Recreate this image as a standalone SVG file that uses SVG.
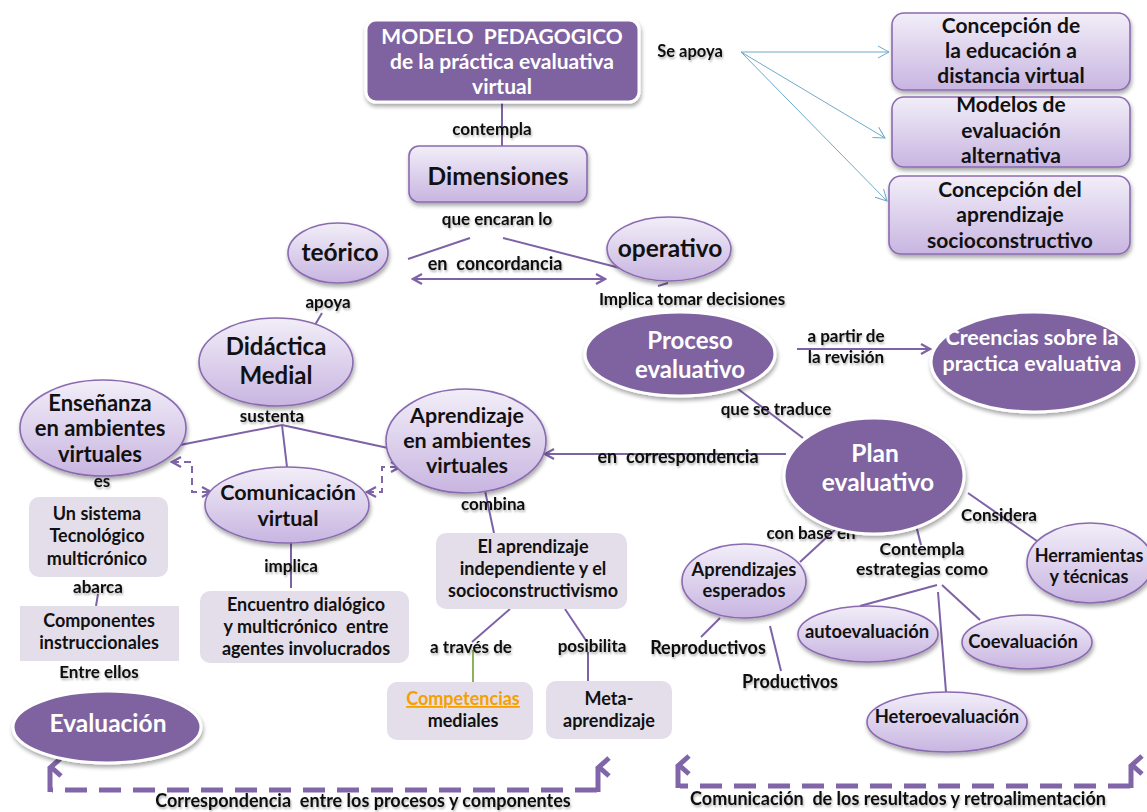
<svg xmlns="http://www.w3.org/2000/svg" width="1147" height="812" viewBox="0 0 1147 812">
<defs>
<linearGradient id="lg" x1="0" y1="0" x2="0" y2="1">
<stop offset="0" stop-color="#F2EEF8"/><stop offset="1" stop-color="#C8B5E1"/>
</linearGradient>
<filter id="sh" x="-20%" y="-20%" width="140%" height="150%">
<feGaussianBlur in="SourceAlpha" stdDeviation="2"/><feOffset dx="1" dy="3" result="b"/>
<feComponentTransfer><feFuncA type="linear" slope="0.35"/></feComponentTransfer>
<feMerge><feMergeNode/><feMergeNode in="SourceGraphic"/></feMerge>
</filter>
<filter id="ts" x="-10%" y="-30%" width="120%" height="160%">
<feGaussianBlur in="SourceAlpha" stdDeviation="1.2"/><feOffset dx="1" dy="2"/>
<feComponentTransfer><feFuncA type="linear" slope="0.3"/></feComponentTransfer>
<feMerge><feMergeNode/><feMergeNode in="SourceGraphic"/></feMerge>
</filter>
<marker id="chev" viewBox="0 0 12 12" refX="10" refY="6" markerWidth="12" markerHeight="12" markerUnits="userSpaceOnUse" orient="auto-start-reverse">
<path d="M1,1 L10,6 L1,11" fill="none" stroke="#7E62A6" stroke-width="2.2"/>
</marker>
<marker id="bchev" viewBox="0 0 14 14" refX="12" refY="7" markerWidth="14" markerHeight="14" markerUnits="userSpaceOnUse" orient="auto">
<path d="M1,1 L12,7 L1,13" fill="none" stroke="#6FA9C9" stroke-width="1"/>
</marker>
<marker id="up" viewBox="0 0 24 20" refX="12" refY="3" markerWidth="24" markerHeight="20" markerUnits="userSpaceOnUse" orient="auto">
<path d="M3,14 L12,4 L21,14" fill="none" stroke="#8066A8" stroke-width="5"/>
</marker>
<style>
text{font-family:Lato,"Liberation Sans",sans-serif;font-weight:bold;text-anchor:middle;fill:#111;white-space:pre;}
.w{fill:#fff;}
.lbl{font-size:17px;}
.lite{fill:url(#lg);stroke:#8A6BB0;stroke-width:1.6;filter:url(#sh);}
.dark{fill:#7F63A1;stroke:#fff;stroke-width:3;filter:url(#sh);}
.flat{fill:#E4DEEB;}
.ln{stroke:#7E62A6;stroke-width:2;fill:none;}
.bl{stroke:#6FA9C9;stroke-width:1;fill:none;}
.dash{stroke:#8066A8;stroke-width:5;fill:none;stroke-dasharray:22 12;}
.sdash{stroke:#8066A8;stroke-width:2;fill:none;stroke-dasharray:7 5;}
.box{font-size:18px;}
</style>
</defs>
<rect width="1147" height="812" fill="#fff"/>

<g id="connectors">
<line class="ln" x1="502" y1="102" x2="502" y2="147"/>
<line class="bl" x1="741" y1="52" x2="889" y2="52" marker-end="url(#bchev)"/>
<line class="bl" x1="741" y1="52" x2="885" y2="138" marker-end="url(#bchev)"/>
<line class="bl" x1="741" y1="52" x2="887" y2="201" marker-end="url(#bchev)"/>
<line class="ln" x1="408" y1="259" x2="470" y2="238"/>
<line class="ln" x1="503" y1="238" x2="620" y2="268"/>
<line class="ln" x1="413" y1="279" x2="605" y2="279" marker-start="url(#chev)" marker-end="url(#chev)"/>
<line class="ln" x1="658" y1="286" x2="668" y2="283"/>
<line class="ln" x1="312" y1="330" x2="322" y2="313"/>
<line class="ln" x1="282" y1="425" x2="180" y2="445"/>
<line class="ln" x1="282" y1="425" x2="287" y2="467"/>
<line class="ln" x1="282" y1="425" x2="388" y2="448"/>
<path class="sdash" d="M172,462 L192,462 L192,492 L211,492" marker-start="url(#chev)" marker-end="url(#chev)"/>
<path class="sdash" d="M367,492 L382,492 L382,467 L400,467" marker-start="url(#chev)" marker-end="url(#chev)"/>
<line class="ln" x1="786" y1="454" x2="545" y2="454" marker-end="url(#chev)"/>
<line class="ln" x1="484" y1="486" x2="494" y2="533"/>
<line class="ln" x1="510" y1="609" x2="472" y2="642"/>
<line x1="473" y1="650" x2="473" y2="682" stroke="#8DB05A" stroke-width="2"/>
<line class="ln" x1="565" y1="609" x2="587" y2="642"/>
<line class="ln" x1="588" y1="652" x2="588" y2="682"/>
<line class="ln" x1="98" y1="594" x2="96" y2="606"/>
<line class="ln" x1="291" y1="542" x2="291" y2="588"/>
<line class="ln" x1="797" y1="349" x2="930" y2="349" marker-end="url(#chev)"/>
<line class="ln" x1="738" y1="389" x2="803" y2="438"/>
<line class="ln" x1="968" y1="493" x2="1037" y2="541"/>
<line class="ln" x1="840" y1="525" x2="800" y2="562"/>
<line class="ln" x1="720" y1="618" x2="701" y2="637"/>
<line class="ln" x1="770" y1="626" x2="781" y2="671"/>
<line class="ln" x1="916" y1="525" x2="921" y2="545"/>
<line class="ln" x1="937" y1="585" x2="860" y2="606"/>
<line class="ln" x1="938" y1="592" x2="946" y2="692"/>
<line class="ln" x1="942" y1="585" x2="980" y2="620"/>
<path class="dash" d="M597,790 L52,790"/>
<line x1="50" y1="792" x2="50" y2="767" stroke="#8066A8" stroke-width="5" marker-end="url(#up)"/>
<line x1="598" y1="792" x2="598" y2="767" stroke="#8066A8" stroke-width="5" marker-end="url(#up)"/>
<path class="dash" d="M1130,786 L680,786"/>
<line x1="678" y1="788" x2="678" y2="765" stroke="#8066A8" stroke-width="5" marker-end="url(#up)"/>
<line x1="1131" y1="788" x2="1131" y2="765" stroke="#8066A8" stroke-width="5" marker-end="url(#up)"/>
</g>

<g id="labels" filter="url(#ts)">
<text x="690" y="57" style="font-size:16.5px">Se apoya</text>
<text x="492" y="135" class="lbl">contempla</text>
<text x="497" y="225" class="lbl">que encaran lo</text>
<text x="495" y="270" style="font-size:18px">en  concordancia</text>
<text x="692" y="305" class="lbl">Implica tomar decisiones</text>
<text x="328" y="308" class="lbl">apoya</text>
<text x="272" y="422" class="lbl">sustenta</text>
<text x="102" y="487" class="lbl">es</text>
<text x="678" y="463" style="font-size:18px">en  correspondencia</text>
<text x="493" y="510" class="lbl">combina</text>
<text x="471" y="653" class="lbl">a través de</text>
<text x="592" y="652" class="lbl">posibilita</text>
<text x="98" y="593" class="lbl">abarca</text>
<text x="99" y="678" class="lbl">Entre ellos</text>
<text x="291" y="572" class="lbl">implica</text>
<text x="846" y="342" class="lbl">a partir de</text>
<text x="846" y="363" class="lbl">la revisión</text>
<text x="776" y="415" class="lbl">que se traduce</text>
<text x="999" y="521" class="lbl">Considera</text>
<text x="811" y="539" class="lbl">con base en</text>
<text x="922" y="555" style="font-size:17.5px">Contempla</text>
<text x="922" y="575" style="font-size:17.5px">estrategias como</text>
<text x="708" y="654" style="font-size:18px">Reproductivos</text>
<text x="790" y="688" style="font-size:18px">Productivos</text>
<text x="363" y="807" style="font-size:18px">Correspondencia  entre los procesos y componentes</text>
<text x="898" y="805" style="font-size:18px">Comunicación  de los resultados y retroalimentación</text>
</g>

<g id="n-modelo">
<rect x="366" y="20" width="273" height="82" rx="10" class="dark"/>
<text class="w" x="502" y="44" style="font-size:21px">MODELO  PEDAGOGICO</text>
<text class="w" x="502" y="69" style="font-size:21px">de la práctica evaluativa</text>
<text class="w" x="502" y="94" style="font-size:21px">virtual</text>
</g>
<g id="n-concepcion-edu">
<rect x="892" y="13" width="238" height="77" rx="12" class="lite"/>
<text x="1011" y="33" style="font-size:21px">Concepción de</text>
<text x="1011" y="58" style="font-size:21px">la educación a</text>
<text x="1011" y="83" style="font-size:21px">distancia virtual</text>
</g>
<g id="n-modelos">
<rect x="892" y="97" width="238" height="70" rx="12" class="lite"/>
<text x="1011" y="112" style="font-size:21px">Modelos de</text>
<text x="1011" y="138" style="font-size:21px">evaluación</text>
<text x="1011" y="163" style="font-size:21px">alternativa</text>
</g>
<g id="n-concepcion-apr">
<rect x="889" y="176" width="241" height="78" rx="12" class="lite"/>
<text x="1010" y="197" style="font-size:21px">Concepción del</text>
<text x="1010" y="222" style="font-size:21px">aprendizaje</text>
<text x="1010" y="248" style="font-size:21px">socioconstructivo</text>
</g>
<g id="n-dimensiones">
<rect x="409" y="146" width="178" height="56" rx="10" class="lite"/>
<text x="498" y="185" style="font-size:24.5px">Dimensiones</text>
</g>
<g id="n-teorico">
<ellipse cx="338" cy="253" rx="50" ry="30" class="lite"/>
<text x="340" y="261" style="font-size:24.5px">teórico</text>
</g>
<g id="n-operativo">
<ellipse cx="669" cy="249" rx="62" ry="32" class="lite"/>
<text x="670" y="257" style="font-size:24.5px">operativo</text>
</g>
<g id="n-didactica">
<ellipse cx="276" cy="362" rx="77" ry="44" class="lite"/>
<text x="276" y="355" style="font-size:24px">Didáctica</text>
<text x="276" y="384" style="font-size:24px">Medial</text>
</g>
<g id="n-ensenanza">
<ellipse cx="103" cy="428" rx="83" ry="48" class="lite"/>
<text x="100" y="411" style="font-size:22px">Enseñanza</text>
<text x="100" y="436" style="font-size:22px">en ambientes</text>
<text x="100" y="462" style="font-size:22px">virtuales</text>
</g>
<g id="n-comunicacion">
<ellipse cx="287" cy="505" rx="82" ry="38" class="lite"/>
<text x="288" y="500" style="font-size:21.5px">Comunicación</text>
<text x="288" y="526" style="font-size:21.5px">virtual</text>
</g>
<g id="n-aprendizaje">
<ellipse cx="466" cy="441" rx="80" ry="52" class="lite"/>
<text x="467" y="423" style="font-size:21.5px">Aprendizaje</text>
<text x="467" y="448" style="font-size:21.5px">en ambientes</text>
<text x="467" y="473" style="font-size:21.5px">virtuales</text>
</g>
<g id="n-independiente">
<rect x="436" y="533" width="191" height="76" rx="10" class="flat"/>
<text x="533" y="553" class="box">El aprendizaje</text>
<text x="533" y="575" class="box">independiente y el</text>
<text x="533" y="597" class="box">socioconstructivismo</text>
</g>
<g id="n-competencias">
<rect x="387" y="682" width="146" height="58" rx="10" class="flat"/>
<text x="463" y="705" class="box" style="fill:#F5A000;text-decoration:underline">Competencias</text>
<text x="463" y="727" class="box">mediales</text>
</g>
<g id="n-meta">
<rect x="546" y="681" width="126" height="58" rx="10" class="flat"/>
<text x="609" y="705" class="box">Meta-</text>
<text x="609" y="727" class="box">aprendizaje</text>
</g>
<g id="n-sistema">
<rect x="29" y="497" width="139" height="80" rx="10" class="flat"/>
<text x="97" y="520" class="box">Un sistema</text>
<text x="97" y="542" class="box">Tecnológico</text>
<text x="97" y="565" class="box">multicrónico</text>
</g>
<g id="n-componentes">
<rect x="20" y="606" width="159" height="55" class="flat"/>
<text x="99" y="627" class="box">Componentes</text>
<text x="99" y="649" class="box">instruccionales</text>
</g>
<g id="n-evaluacion">
<ellipse cx="107" cy="727" rx="94" ry="36" class="dark"/>
<text class="w" x="108" y="732" style="font-size:24.5px">Evaluación</text>
</g>
<g id="n-encuentro">
<rect x="200" y="591" width="209" height="72" rx="10" class="flat"/>
<text x="306" y="611" class="box">Encuentro dialógico</text>
<text x="306" y="633" class="box">y multicrónico  entre</text>
<text x="306" y="655" class="box">agentes involucrados</text>
</g>
<g id="n-proceso">
<ellipse cx="680" cy="354" rx="95" ry="42" class="dark"/>
<text class="w" x="690" y="349" style="font-size:24px">Proceso</text>
<text class="w" x="690" y="378" style="font-size:24px">evaluativo</text>
</g>
<g id="n-creencias">
<ellipse cx="1034" cy="362" rx="103" ry="50" class="dark"/>
<text class="w" x="1032" y="345" style="font-size:21.5px">Creencias sobre la</text>
<text class="w" x="1032" y="371" style="font-size:21.5px">practica evaluativa</text>
</g>
<g id="n-plan">
<ellipse cx="874" cy="476" rx="90" ry="58" class="dark"/>
<text class="w" x="875" y="462" style="font-size:24.5px">Plan</text>
<text class="w" x="878" y="491" style="font-size:24.5px">evaluativo</text>
</g>
<g id="n-herramientas">
<ellipse cx="1090" cy="563" rx="63" ry="40" class="lite"/>
<text x="1089" y="562" style="font-size:18px">Herramientas</text>
<text x="1089" y="583" style="font-size:18px">y técnicas</text>
</g>
<g id="n-esperados">
<ellipse cx="744" cy="581" rx="62" ry="37" class="lite"/>
<text x="744" y="576" style="font-size:18.3px">Aprendizajes</text>
<text x="744" y="597" style="font-size:18.3px">esperados</text>
</g>
<g id="n-auto">
<ellipse cx="868" cy="634" rx="70" ry="28" class="lite"/>
<text x="867" y="638" style="font-size:18.4px">autoevaluación</text>
</g>
<g id="n-co">
<ellipse cx="1027" cy="642" rx="65" ry="27" class="lite"/>
<text x="1023" y="648" style="font-size:18.4px">Coevaluación</text>
</g>
<g id="n-hetero">
<ellipse cx="947" cy="722" rx="80" ry="30" class="lite"/>
<text x="947" y="723" style="font-size:18.4px">Heteroevaluación</text>
</g>
</svg>
